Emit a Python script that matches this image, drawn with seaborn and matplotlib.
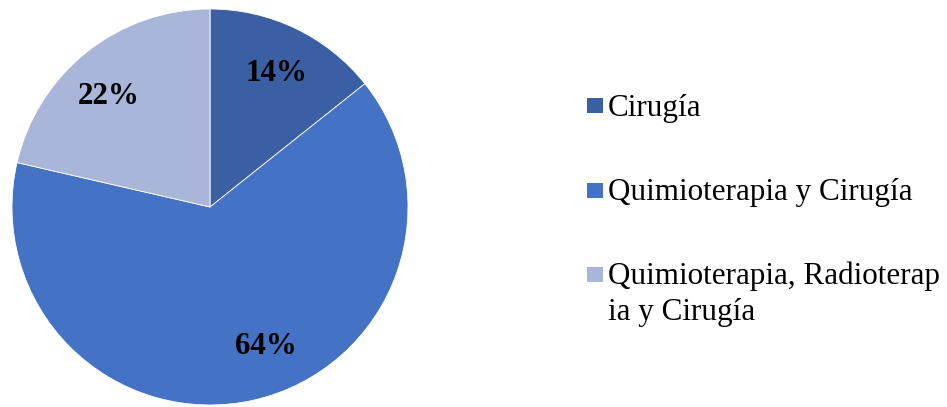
import matplotlib
matplotlib.use("Agg")
import numpy as np
import matplotlib.pyplot as plt
import seaborn as sns
from matplotlib.patches import Rectangle

categories = ["Cirugía", "Quimioterapia y Cirugía", "Quimioterapia, Radioterap\nia y Cirugía"]
values = [14.3, 64.3, 21.4]          # slice sizes as drawn
pct_labels = ["14%", "64%", "22%"]   # labels as printed
colors = ["#3A5FA2", "#4472C4", "#A9B6DA"]

sns.set_theme(style="white")
plt.rcParams["font.family"] = ["Liberation Serif", "DejaVu Serif"]

W, H = 947, 407
fig = plt.figure(figsize=(W / 100, H / 100), dpi=100)
cx, cy, r = 210, 207, 198
ax = fig.add_axes([(cx - r) / W, (H - cy - r) / H, 2 * r / W, 2 * r / H])
wedges, texts = ax.pie(
    values, colors=colors, startangle=90, counterclock=False,
    wedgeprops=dict(linewidth=0.6, edgecolor="white"),
)
# percentage labels placed inside each wedge
dist = [0.77, 0.74, 0.77]
shift = [0, 9.5, 3]  # degrees, label offset from wedge mid-angle (best-fit placement)
for w, lab, d, s in zip(wedges, pct_labels, dist, shift):
    ang = np.deg2rad((w.theta1 + w.theta2) / 2 + s)
    ax.text(d * np.cos(ang), d * np.sin(ang), lab, ha="center", va="center_baseline",
            fontsize=22.3, fontweight="bold", color="black")
ax.set_xlim(-1, 1)
ax.set_ylim(-1, 1)
ax.set_aspect("equal")
ax.axis("off")

# legend (manual, marker aligned with first text line)
marker_tops = [98, 183, 267]
baselines = [116, 200, 284]
for lab, col, mt, bl in zip(categories, colors, marker_tops, baselines):
    fig.add_artist(Rectangle((587 / W, 1 - (mt + 15) / H), 16 / W, 15 / H,
                             transform=fig.transFigure, facecolor=col, edgecolor="none"))
    lines = lab.split("\n")
    for i, line in enumerate(lines):
        fig.text(608 / W, 1 - (bl + i * 36) / H, line, fontsize=22.4, va="baseline",
                 ha="left", color="black")

fig.savefig("out.png", dpi=100)
